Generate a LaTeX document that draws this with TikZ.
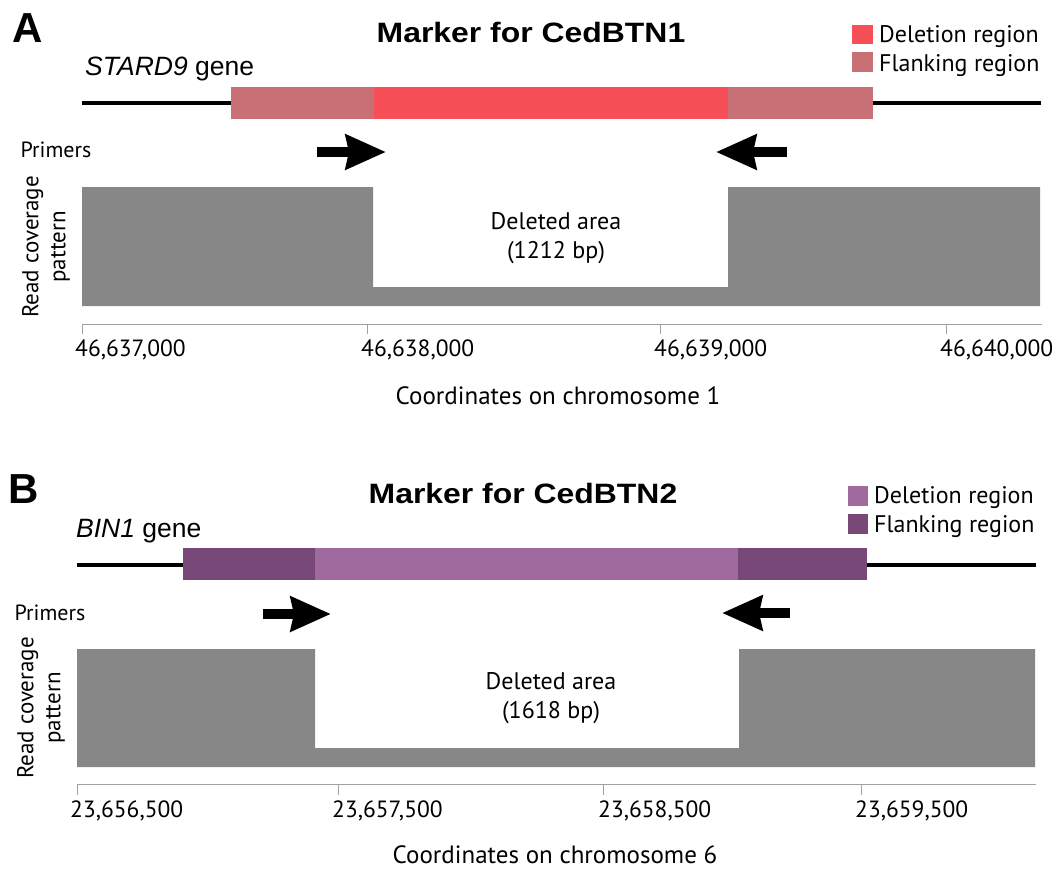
\documentclass[tikz,border=0pt]{standalone}
\usepackage{fontspec}
\setmainfont{PT Sans}
\newfontfamily\arialfont{Liberation Sans}
\newfontfamily\titrefont[FakeStretch=1.14]{Liberation Sans}
\usetikzlibrary{arrows.meta,positioning}
\definecolor{delA}{HTML}{F64F58}
\definecolor{flaA}{HTML}{C87076}
\definecolor{delB}{HTML}{A06A9E}
\definecolor{flaB}{HTML}{784878}
\definecolor{couv}{HTML}{878787}
\definecolor{gris}{HTML}{A0A0A0}

\begin{document}
\begin{tikzpicture}[x=1pt,y=-1pt]
%styles : textes, fleches des amorces, axe
\tikzset{texte/.style={inner sep=0pt,align=center,anchor=base,font=\fontsize{24}{29}\selectfont},
  titre/.style={inner sep=0pt,anchor=base,font=\titrefont\bfseries\fontsize{28}{30}\selectfont},
  lettre/.style={inner sep=0pt,anchor=base west,font=\arialfont\bfseries\fontsize{42}{44}\selectfont},
  gene/.style={inner sep=0pt,anchor=base west,font=\arialfont\fontsize{26.5}{28}\selectfont},
  legende/.style={texte,anchor=base west},
  graduation/.style={texte,anchor=base west,font=\fontsize{23.5}{28}\selectfont},
  vertical/.style={inner sep=0pt,align=center,rotate=90,font=\fontsize{23}{27}\selectfont},
  amorce/.style={line width=10pt,-{Stealth[length=40pt,width=34pt,inset=3pt]}},
  axe/.style={gris,line width=1pt}}
\useasboundingbox (0,0) rectangle (1060,868);

%%%%% panneau A
\node[lettre] (lettreA) at (12,42) {A};
\node[titre] (titreA) at (531,42) {Marker for CedBTN1};
\node[gene] (geneA) at (85,75) {\textit{STARD9} gene};
%legende
\fill[delA] (852,25) rectangle (873,44);
\fill[flaA] (852,52) rectangle (873,72);
\node[legende] (legdelA) at (879,42) {Deletion region};
\node[legende] (legflaA) at (879,71) {Flanking region};
%gene et regions
\draw[line width=4pt] (82,103) -- (232,103);
\draw[line width=4pt] (872,103) -- (1041,103);
\fill[flaA] (231,87) rectangle (374,119);
\fill[delA] (374,87) rectangle (728,119);
\fill[flaA] (728,87) rectangle (873,119);
%amorces
\node[texte,font=\fontsize{22}{26}\selectfont] (amorcesA) at (56,157) {Primers};
\coordinate (fA1) at (317,152);
\coordinate (fA1b) at (386,152);
\coordinate (fA2) at (787,152);
\coordinate (fA2b) at (716,152);
\draw[amorce] (fA1) -- (fA1b);
\draw[amorce] (fA2) -- (fA2b);
%couverture des lectures
\fill[couv] (82,187) -- (373,187) -- (373,287) -- (728,287) -- (728,187) -- (1040,187)
  -- (1040,306) -- (82,306) -- cycle;
\node[vertical] (couvA) at (46,247) {Read coverage\\pattern};
\node[texte] (suppA) at (556,258) {Deleted area\\(1212 bp)};
%axe
\draw[axe] (82,324) -- (1042,324);
\draw[axe] (82,324) -- (82,334);
\draw[axe] (367,324) -- (367,334);
\draw[axe] (660,324) -- (660,334);
\draw[axe] (946,324) -- (946,334);
\node[graduation] (gA1) at (75,356) {46,637,000};
\node[graduation] (gA2) at (361,356) {46,638,000};
\node[graduation] (gA3) at (654,356) {46,639,000};
\node[graduation] (gA4) at (940,356) {46,640,000};
\node[texte,font=\fontsize{25}{28}\selectfont] (coordA) at (558,404) {Coordinates on chromosome 1};

%%%%% panneau B
\node[lettre] (lettreB) at (8,503) {B};
\node[titre] (titreB) at (523,503) {Marker for CedBTN2};
\node[gene] (geneB) at (76,537) {\textit{BIN1} gene};
%legende
\fill[delB] (848,486) rectangle (868,506);
\fill[flaB] (848,514) rectangle (868,534);
\node[legende] (legdelB) at (874,503) {Deletion region};
\node[legende] (legflaB) at (874,532) {Flanking region};
%gene et regions
\draw[line width=4pt] (77,565) -- (184,565);
\draw[line width=4pt] (866,565) -- (1036,565);
\fill[flaB] (183,548) rectangle (315,580);
\fill[delB] (315,548) rectangle (738,580);
\fill[flaB] (738,548) rectangle (867,580);
%amorces
\node[texte,font=\fontsize{22}{26}\selectfont] (amorcesB) at (50,620) {Primers};
\coordinate (fB1) at (263,614);
\coordinate (fB1b) at (331,614);
\coordinate (fB2) at (790,613);
\coordinate (fB2b) at (722,613);
\draw[amorce] (fB1) -- (fB1b);
\draw[amorce] (fB2) -- (fB2b);
%couverture des lectures
\fill[couv] (77,649) -- (315,649) -- (315,748) -- (739,748) -- (739,649) -- (1035,649)
  -- (1035,767) -- (77,767) -- cycle;
\node[vertical] (couvB) at (41,708) {Read coverage\\pattern};
\node[texte] (suppB) at (551,718) {Deleted area\\(1618 bp)};
%axe
\draw[axe] (77,784) -- (1036,784);
\draw[axe] (77,784) -- (77,795);
\draw[axe] (338,784) -- (338,795);
\draw[axe] (603,784) -- (603,795);
\draw[axe] (861,784) -- (861,795);
\node[graduation] (gB1) at (70,817) {23,656,500};
\node[graduation] (gB2) at (332,817) {23,657,500};
\node[graduation] (gB3) at (598,817) {23,658,500};
\node[graduation] (gB4) at (855,817) {23,659,500};
\node[texte,font=\fontsize{25}{28}\selectfont] (coordB) at (555,863) {Coordinates on chromosome 6};
\end{tikzpicture}
\end{document}
